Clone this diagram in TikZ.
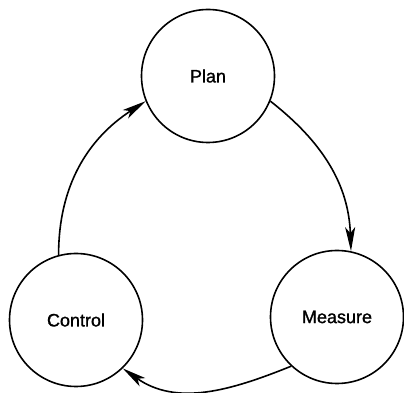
\documentclass[tikz,border=0pt]{standalone}
\usepackage{fontspec}
\setmainfont{Liberation Sans}[FakeBold=1.2]
\usetikzlibrary{arrows.meta}
\begin{document}
\begin{tikzpicture}[x=1pt,y=1pt,
  stage/.style={circle, draw, line width=1.6pt, minimum size=133pt, inner sep=0pt, font=\fontsize{18}{20}\selectfont},
  flow/.style={line width=1.6pt, -{Stealth[length=24pt, width=10pt, inset=6pt]}}]
\useasboundingbox (0,0) rectangle (404,393);
\node[stage] (plan) at (208,317) {Plan};
\node[stage] (control) at (76,73) {Control};
\node[stage] (measure) at (337,76) {Measure};
\draw[flow] (plan.-22) to[out=-38, in=92] (measure.78);
\draw[flow] (measure.227) to[out=-158, in=-35] (control.-46);
\draw[flow] (control.105) to[out=90, in=-147] (plan.202);
\end{tikzpicture}
\end{document}
